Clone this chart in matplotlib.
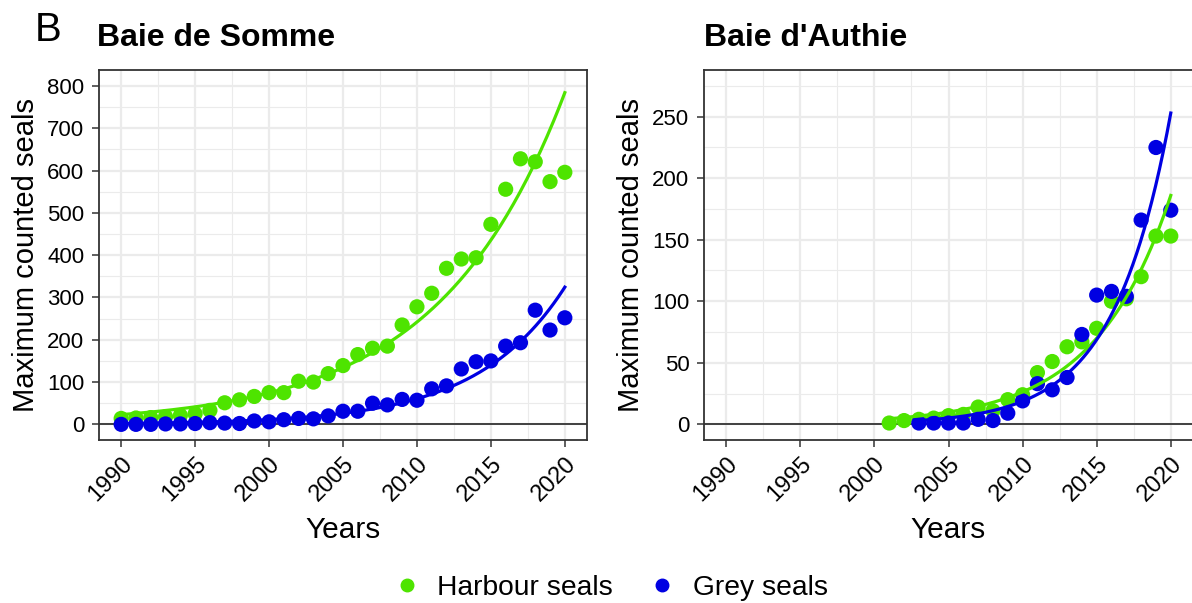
import numpy as np
import matplotlib.pyplot as plt
from matplotlib.lines import Line2D
from matplotlib.ticker import MultipleLocator

plt.rcParams["font.family"] = ["Liberation Sans", "DejaVu Sans"]

# ---- data ----
years_somme = list(range(1990, 2021))
harbour_somme = [14, 15, 16, 18, 21, 25, 33, 51, 58, 66, 75, 75, 102, 100, 120,
                 139, 165, 180, 185, 235, 278, 310, 369, 391, 394, 473, 556,
                 628, 621, 574, 596]
grey_somme = [0, 0, 0, 1, 1, 2, 4, 3, 2, 8, 6, 11, 14, 13, 20, 31, 31, 50, 46,
              59, 57, 84, 91, 131, 148, 150, 185, 193, 270, 223, 252]

years_harbour_authie = list(range(2001, 2021))
harbour_authie = [1, 3, 4, 5, 7, 8, 14, 11, 20, 24, 42, 51, 63, 67, 78, 100,
                  102, 120, 153, 153]
years_grey_authie = list(range(2003, 2021))
grey_authie = [1, 1, 1, 1, 4, 3, 9, 19, 33, 28, 38, 73, 105, 108, 104, 166,
               225, 174]

HARBOUR = "#4ee400"
GREY = "#0000e2"
BORDER = "#333333"


def poisson_trend(x, y, n=200):
    # log-linear Poisson regression (IRLS), evaluated over the observed span
    x = np.asarray(x, float)
    y = np.asarray(y, float)
    xc = x.mean()
    X = np.column_stack([np.ones_like(x), x - xc])
    beta = np.array([np.log(y.mean()), 0.0])
    for _ in range(100):
        eta = X @ beta
        mu = np.exp(eta)
        z = eta + (y - mu) / mu
        W = mu
        beta = np.linalg.solve(X.T @ (X * W[:, None]), X.T @ (W * z))
    xs = np.linspace(x.min(), x.max(), n)
    return xs, np.exp(beta[0] + beta[1] * (xs - xc))


def style_panel(ax, ylim, major, minor):
    ax.set_xlim(1988.5, 2021.5)
    ax.set_ylim(*ylim)
    ax.xaxis.set_major_locator(MultipleLocator(5))
    ax.xaxis.set_minor_locator(MultipleLocator(2.5))
    ax.yaxis.set_major_locator(MultipleLocator(major))
    ax.yaxis.set_minor_locator(MultipleLocator(minor))
    ax.grid(True, which="major", color="#ebebeb", linewidth=1.6)
    ax.grid(True, which="minor", color="#ebebeb", linewidth=0.8)
    ax.set_axisbelow(True)
    for s in ax.spines.values():
        s.set_color(BORDER)
        s.set_linewidth(1.3)
    ax.tick_params(which="major", length=5, width=1.1, color=BORDER,
                   labelcolor="black")
    ax.tick_params(axis="y", which="major", labelsize=16, pad=5.5)
    ax.tick_params(axis="x", which="major", labelsize=17, pad=4.5)
    ax.tick_params(which="minor", length=0)
    for lab in ax.get_xticklabels():
        lab.set_rotation(45)
        lab.set_ha("right")
        lab.set_rotation_mode("anchor")
    ax.axhline(0, color=BORDER, linewidth=1.3, zorder=1)
    ax.set_xlabel("Years", fontsize=21.5, labelpad=7)
    ax.set_ylabel("Maximum counted seals", fontsize=21, labelpad=5)


fig = plt.figure(figsize=(11.92, 6.03), dpi=100)
W, H = 1192, 603
ax1 = fig.add_axes([99 / W, (H - 440) / H, (587 - 99) / W, 370 / H])
ax2 = fig.add_axes([704 / W, (H - 440) / H, (1193 - 704) / W, 370 / H])

panels = [
    (ax1, [(years_somme, harbour_somme, HARBOUR), (years_somme, grey_somme, GREY)],
     (-37, 838), 100, 50),
    (ax2, [(years_harbour_authie, harbour_authie, HARBOUR),
           (years_grey_authie, grey_authie, GREY)],
     (-12.8, 288), 50, 25),
]

for ax, series, ylim, major, minor in panels:
    style_panel(ax, ylim, major, minor)
    for x, y, c in series:
        ax.scatter(x, y, s=120, color=c, edgecolors="none", zorder=3)
    for x, y, c in series:
        xs, fit = poisson_trend(x, y)
        ax.plot(xs, fit, color=c, linewidth=2.3, zorder=4)

fig.text(35 / W, 1 - 30 / H, "B", fontsize=29, va="center", ha="left")
fig.text(97 / W, 1 - 38 / H, "Baie de Somme", fontsize=23, fontweight="bold",
         va="center", ha="left")
fig.text(704 / W, 1 - 38 / H, "Baie d'Authie", fontsize=23, fontweight="bold",
         va="center", ha="left")

handles = [
    Line2D([], [], marker="o", linestyle="none", color=HARBOUR, markersize=9,
           label="Harbour seals"),
    Line2D([], [], marker="o", linestyle="none", color=GREY, markersize=9,
           label="Grey seals"),
]
fig.legend(handles=handles, loc="center",
           bbox_to_anchor=(0.5 + 14 / W, 1 - 588 / H),
           ncol=2, frameon=False, fontsize=20.3, handlelength=1.0,
           handletextpad=0.58, columnspacing=1.25)

fig.savefig("out.png", dpi=100)
